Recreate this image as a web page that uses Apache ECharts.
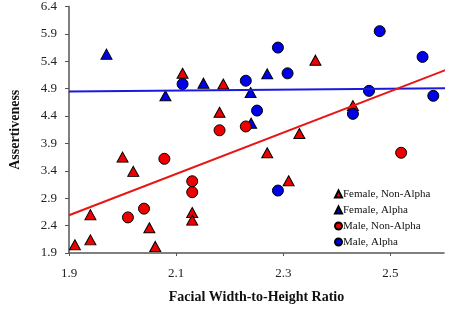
<!DOCTYPE html>
<html>
<head>
<meta charset="utf-8">
<script src="https://cdn.jsdelivr.net/npm/echarts@6/dist/echarts.min.js"></script>
<style>
  html, body { margin: 0; padding: 0; background: #fff; }
  #chart { width: 454px; height: 309px; }
</style>
</head>
<body>
<div id="chart"></div>
<script>
// values
var femaleNonAlphaX = [2.112, 2.188, 2.181, 2.33, 2.36, 2.43, 2.00, 2.02, 1.94, 2.05, 1.911, 1.94, 2.061, 2.13, 2.13, 2.27, 2.31];
var femaleNonAlphaY = [5.18, 4.985, 4.47, 4.08, 5.42, 4.59, 3.65, 3.39, 2.60, 2.36, 2.05, 2.14, 2.02, 2.64, 2.50, 3.73, 3.22];

var femaleAlphaX = [1.970, 2.08, 2.151, 2.239, 2.27, 2.24];
var femaleAlphaY = [5.53, 4.77, 5.00, 4.83, 5.17, 4.27];

var maleNonAlphaX = [2.181, 2.23, 2.078, 2.13, 2.13, 2.01, 2.04, 2.52];
var maleNonAlphaY = [4.14, 4.21, 3.62, 3.21, 3.01, 2.55, 2.71, 3.73];

var maleAlphaX = [2.112, 2.23, 2.29, 2.308, 2.251, 2.48, 2.56, 2.46, 2.58, 2.43, 2.29];
var maleAlphaY = [4.985, 5.045, 5.65, 5.18, 4.50, 5.95, 5.48, 4.86, 4.77, 4.44, 3.04];

// fitted lines (end points)
var alphaLineX = [1.9, 2.61];
var alphaLineY = [4.85, 4.91];
var nonAlphaLineX = [1.9, 2.603];
var nonAlphaLineY = [2.59, 5.24];

var xTicks = [1.9, 2.1, 2.3, 2.5];
var yTicks = [1.9, 2.4, 2.9, 3.4, 3.9, 4.4, 4.9, 5.4, 5.9, 6.4];

var RED = '#ee0000';
var BLUE = '#0000e6';
var FONT = '"Liberation Serif", "Times New Roman", serif';

function pairs(xs, ys) {
  var out = [];
  for (var i = 0; i < xs.length; i++) out.push([xs[i], ys[i]]);
  return out;
}

function scatter(name, xs, ys, color, symbol, size) {
  return {
    name: name,
    type: 'scatter',
    symbol: symbol,
    symbolSize: size,
    data: pairs(xs, ys),
    itemStyle: { color: color, borderColor: '#000', borderWidth: 1, opacity: 1 },
    emphasis: { disabled: true }
  };
}

var chart = echarts.init(document.getElementById('chart'), null, { renderer: 'canvas' });

var option = {
  backgroundColor: '#fff',
  animation: false,
  textStyle: { fontFamily: FONT },
  grid: { left: 64, right: 10, top: 5, bottom: 55, containLabel: false },
  legend: {
    orient: 'vertical',
    left: 334,
    top: 188,
    padding: 0,
    itemWidth: 7,
    itemHeight: 7,
    itemGap: 4,
    textStyle: { fontFamily: FONT, fontSize: 11, lineHeight: 12, color: '#111', padding: [0, 0, 0, -4] },
    data: [
      { name: 'Female, Non-Alpha', icon: 'triangle' },
      { name: 'Female, Alpha', icon: 'triangle' },
      { name: 'Male, Non-Alpha', icon: 'circle' },
      { name: 'Male, Alpha', icon: 'circle' }
    ]
  },
  xAxis: {
    type: 'value',
    min: 1.9,
    max: 2.6,
    name: 'Facial Width-to-Height Ratio',
    nameLocation: 'middle',
    nameGap: 37,
    nameTextStyle: { fontFamily: FONT, fontSize: 14, fontWeight: 'bold', color: '#111' },
    axisLine: { lineStyle: { color: '#555', width: 1.5 } },
    axisTick: { show: true, length: 3, customValues: xTicks, lineStyle: { color: '#555' } },
    axisLabel: {
      customValues: xTicks,
      margin: 14,
      fontFamily: FONT, fontSize: 13, color: '#222',
      formatter: function (v) { return v.toFixed(1); }
    },
    splitLine: { show: false }
  },
  yAxis: {
    type: 'value',
    min: 1.9,
    max: 6.4,
    name: 'Assertiveness',
    nameLocation: 'middle',
    nameGap: 47,
    nameTextStyle: { fontFamily: FONT, fontSize: 14, fontWeight: 'bold', color: '#111' },
    axisLine: { show: true, lineStyle: { color: '#555', width: 1.5 } },
    axisTick: { show: true, length: 4, customValues: yTicks, lineStyle: { color: '#555' } },
    axisLabel: {
      customValues: yTicks,
      margin: 12,
      fontFamily: FONT, fontSize: 13, color: '#222',
      formatter: function (v) { return v.toFixed(1); }
    },
    splitLine: { show: false }
  },
  series: [
    {
      type: 'line',
      data: pairs(alphaLineX, alphaLineY),
      symbol: 'none',
      clip: false,
      lineStyle: { color: '#1a1adc', width: 2 },
      silent: true
    },
    {
      type: 'line',
      data: pairs(nonAlphaLineX, nonAlphaLineY),
      symbol: 'none',
      clip: false,
      lineStyle: { color: '#e81515', width: 2 },
      silent: true
    },
    scatter('Female, Non-Alpha', femaleNonAlphaX, femaleNonAlphaY, RED, 'triangle', [11, 10]),
    scatter('Female, Alpha', femaleAlphaX, femaleAlphaY, BLUE, 'triangle', [11, 10]),
    scatter('Male, Non-Alpha', maleNonAlphaX, maleNonAlphaY, RED, 'circle', 11),
    scatter('Male, Alpha', maleAlphaX, maleAlphaY, BLUE, 'circle', 11)
  ]
};

chart.setOption(option);
</script>
</body>
</html>
